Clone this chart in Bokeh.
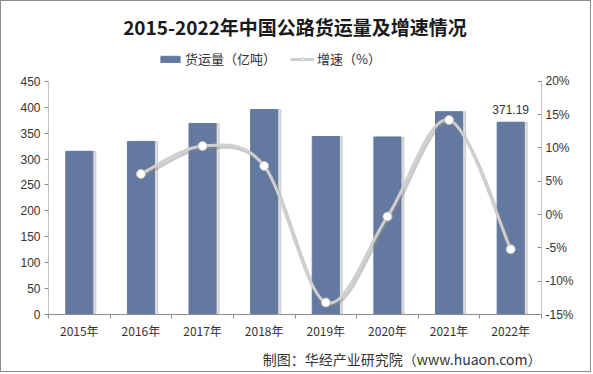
from bokeh.plotting import figure
from bokeh.models import (Range1d, LinearAxis, FixedTicker, PrintfTickFormatter,
                          Legend, LegendItem, Title, ColumnDataSource)
from bokeh.core.properties import value
from bokeh.embed import file_html
from bokeh.resources import INLINE

years = ["2015年", "2016年", "2017年", "2018年", "2019年", "2020年", "2021年", "2022年"]
volume = [315.0, 334.1, 368.7, 395.7, 343.5, 342.6, 391.4, 371.19]
growth_years = ["2016年", "2017年", "2018年", "2019年", "2020年", "2021年", "2022年"]
growth = [6.1, 10.3, 7.3, -13.2, -0.3, 14.2, -5.2]
vol_ticks = list(range(0, 451, 50))
pct_ticks = list(range(-15, 21, 5))

BAR = "#64799F"
AXIS = "#8c8c8c"
FONT = "Liberation Sans"
CJK = "Noto Sans CJK SC"

# geometry (pixels): frame extends up to hold the legend; axes span 0..450 only
FRAME_TOP, AXIS_TOP, FRAME_BOTTOM = 48, 81, 315
k = (FRAME_BOTTOM - FRAME_TOP) / (FRAME_BOTTOM - AXIS_TOP)
vmax, pmin, pmax = vol_ticks[-1], pct_ticks[0], pct_ticks[-1]

xs = list(range(len(years)))
gx = [years.index(y) for y in growth_years]
xl, xr = -0.5, len(years) - 0.5

p = figure(width=591, height=372, output_backend="svg", toolbar_location=None,
           x_range=Range1d(xl, xr), y_range=Range1d(0, vmax * k),
           min_border_left=47, min_border_right=51, min_border_top=FRAME_TOP - 1,
           min_border_bottom=58, styles={"border": "1px solid #8c8c8c"})
p.extra_y_ranges = {"g": Range1d(pmin, pmin + (pmax - pmin) * k)}
p.xgrid.visible = False
p.ygrid.visible = False
p.outline_line_color = None

# axis lines spanning only the tick range
p.segment(x0=[xl, xr], y0=[0, 0], x1=[xl, xr], y1=[vmax, vmax], line_color=AXIS, line_width=1)

# bars with soft shadow
p.vbar(x=[x + 0.05 for x in xs], top=volume, width=0.44, color="#9a9a9a", alpha=0.35)
bars = p.vbar(x=xs, top=volume, width=0.44, color=BAR)

# smooth growth line (Catmull-Rom style bezier through the data points)
n = len(gx)
x0, y0, x1, y1, cx0, cy0, cx1, cy1 = [], [], [], [], [], [], [], []
for i in range(n - 1):
    pxm = gx[i - 1] if i > 0 else gx[i]
    pym = growth[i - 1] if i > 0 else growth[i]
    pxp = gx[i + 2] if i + 2 < n else gx[i + 1]
    pyp = growth[i + 2] if i + 2 < n else growth[i + 1]
    x0.append(gx[i]); y0.append(growth[i]); x1.append(gx[i + 1]); y1.append(growth[i + 1])
    cx0.append(gx[i] + (gx[i + 1] - pxm) / 6); cy0.append(growth[i] + (growth[i + 1] - pym) / 6)
    cx1.append(gx[i + 1] - (pxp - gx[i]) / 6); cy1.append(growth[i + 1] - (pyp - growth[i]) / 6)
src = ColumnDataSource(dict(x0=x0, y0=y0, x1=x1, y1=y1, cx0=cx0, cy0=cy0, cx1=cx1, cy1=cy1))
shadow = ColumnDataSource(dict(x0=[v + 0.03 for v in x0], y0=[v - 0.35 for v in y0],
                               x1=[v + 0.03 for v in x1], y1=[v - 0.35 for v in y1],
                               cx0=[v + 0.03 for v in cx0], cy0=[v - 0.35 for v in cy0],
                               cx1=[v + 0.03 for v in cx1], cy1=[v - 0.35 for v in cy1]))
p.bezier(x0="x0", y0="y0", x1="x1", y1="y1", cx0="cx0", cy0="cy0", cx1="cx1", cy1="cy1",
         source=shadow, line_color="#8a8a8a", line_width=3, line_alpha=0.45, y_range_name="g")
curve = p.bezier(x0="x0", y0="y0", x1="x1", y1="y1", cx0="cx0", cy0="cy0", cx1="cx1", cy1="cy1",
                 source=src, line_color="#cfcfcf", line_width=3, y_range_name="g")
dots = p.scatter(gx, growth, size=9, fill_color="white", line_color="#bdbdbd", line_width=1,
                 y_range_name="g")

# data label on last bar
p.text(x=[xs[-1]], y=[volume[-1]], text=[f"{volume[-1]:.2f}"], y_offset=-8,
       text_align="center", text_baseline="bottom", text_font=value(FONT),
       text_font_size="12px", text_color="#333333")

# axes
ax = p.xaxis[0]
ax.ticker = FixedTicker(ticks=xs, minor_ticks=[x - 0.5 for x in xs] + [xs[-1] + 0.5])
ax.major_label_overrides = {i: y for i, y in enumerate(years)}
ax.major_tick_out = 0
ax.major_tick_in = 0
ax.minor_tick_out = 4
ax.minor_tick_in = 0
ax.axis_line_color = AXIS
ax.minor_tick_line_color = AXIS
ax.major_label_text_font = CJK
ax.major_label_text_font_size = "12px"
ax.major_label_text_color = "#333333"
ax.major_label_standoff = 3

ay = p.yaxis[0]
ay.ticker = FixedTicker(ticks=vol_ticks)
ay.minor_tick_out = 0
ay.minor_tick_in = 0
ay.major_tick_out = 4
ay.major_tick_in = 0
ay.axis_line_color = None
ay.major_tick_line_color = AXIS
ay.major_label_text_font = FONT
ay.major_label_text_font_size = "12px"
ay.major_label_text_color = "#333333"
ay.major_label_standoff = 4

ry = LinearAxis(y_range_name="g", ticker=FixedTicker(ticks=pct_ticks),
                formatter=PrintfTickFormatter(format="%d%%"))
ry.minor_tick_out = 0
ry.minor_tick_in = 0
ry.major_tick_out = 0
ry.major_tick_in = 4
ry.axis_line_color = None
ry.major_tick_line_color = AXIS
ry.major_label_text_font = FONT
ry.major_label_text_font_size = "12px"
ry.major_label_text_color = "#333333"
ry.major_label_standoff = 4
p.add_layout(ry, "right")

legend = Legend(items=[LegendItem(label="货运量（亿吨）", renderers=[bars]),
                       LegendItem(label="增速（%）", renderers=[curve, dots])],
                orientation="horizontal", location=(110, 246),
                label_text_font=CJK, label_text_font_size="13px", label_text_color="#333333",
                glyph_width=24, glyph_height=8, spacing=14, border_line_color=None,
                background_fill_alpha=0, padding=2, margin=0, label_standoff=3)
p.add_layout(legend)

p.title = Title(text="2015-2022年中国公路货运量及增速情况", align="center",
                text_font=CJK, text_font_size="19px", text_font_style="bold",
                text_color="#1a1a1a", offset=0, standoff=17)

src_t = Title(text="制图：华经产业研究院（www.huaon.com）", align="right",
              text_font=CJK, text_font_size="14px", text_font_style="normal",
              text_color="#333333")
p.add_layout(src_t, "below")

open("out.html", "w").write(file_html(p, INLINE))
